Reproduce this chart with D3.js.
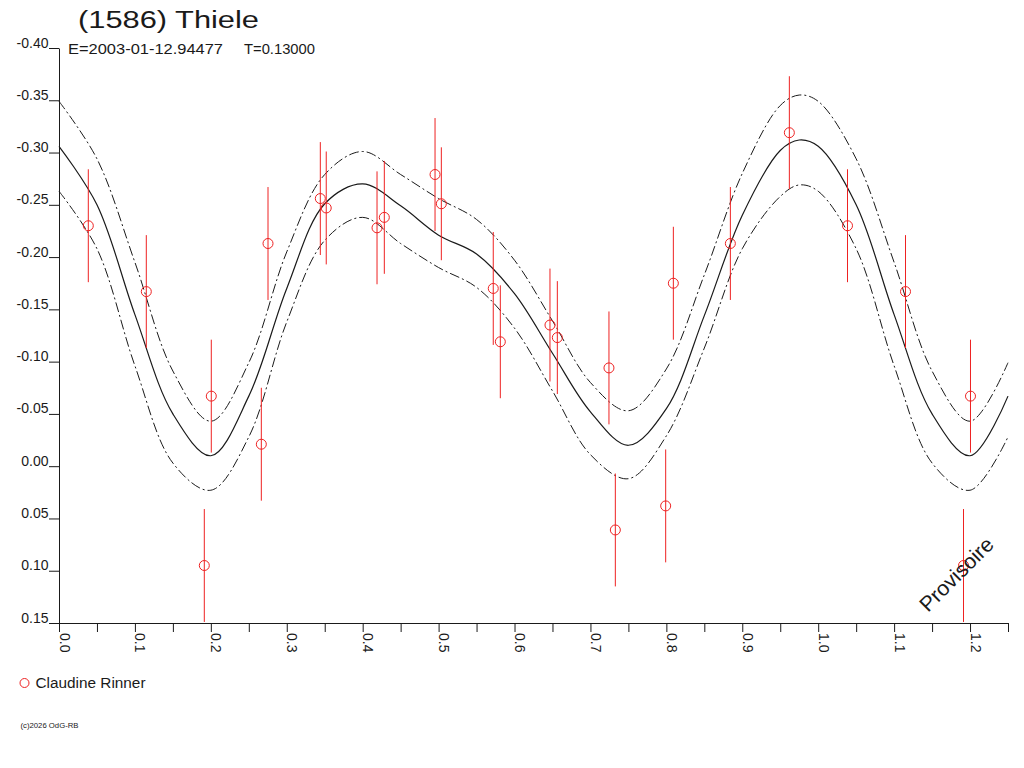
<!DOCTYPE html>
<html>
<head>
<meta charset="utf-8">
<script src="https://cdn.jsdelivr.net/npm/d3@7"></script>
<style>
  body { margin: 0; background: #fff; }
  svg { display: block; font-family: "Liberation Sans", Arial, sans-serif; }
</style>
</head>
<body>
<svg width="1024" height="768"></svg>
<script>
// observations (phase, reduced magnitude, error)
const obsPhase = [0.0386, 0.115, 0.2006, 0.1914, 0.2665, 0.2753, 0.3442, 0.352, 0.4189, 0.4285, 0.4953,
                  0.5036, 0.572, 0.5813, 0.6467, 0.6564, 0.7244, 0.7328, 0.7991, 0.8092, 0.8843, 0.962];
const obsMag = [-0.230, -0.167, -0.067, 0.095, -0.021, -0.213, -0.256, -0.247, -0.228, -0.238, -0.279,
                -0.251, -0.170, -0.119, -0.135, -0.123, -0.094, 0.061, 0.038, -0.175, -0.213, -0.319];
const obsErr = [0.054, 0.054, 0.054, 0.054, 0.054, 0.054, 0.054, 0.054, 0.054, 0.054, 0.054,
                0.054, 0.054, 0.054, 0.054, 0.054, 0.054, 0.054, 0.054, 0.054, 0.054, 0.054];

// fitted curve and its envelope, read at these phases
const curvePhase = [0, 0.05, 0.10, 0.15, 0.20, 0.25, 0.30, 0.35, 0.40, 0.45, 0.50, 0.55, 0.60, 0.65,
                    0.70, 0.75, 0.80, 0.85, 0.90, 0.95, 0.975];
const fitMag = [-0.306, -0.250, -0.145, -0.050, -0.010, -0.067, -0.170, -0.251, -0.270, -0.249, -0.221,
                -0.203, -0.165, -0.108, -0.052, -0.020, -0.055, -0.144, -0.240, -0.302, -0.312];
const upperMag = [-0.349, -0.294, -0.195, -0.091, -0.043, -0.099, -0.205, -0.279, -0.301, -0.279, -0.256,
                  -0.236, -0.197, -0.139, -0.080, -0.053, -0.093, -0.183, -0.280, -0.345, -0.355];
const lowerMag = [-0.263, -0.208, -0.096, -0.003, 0.023, -0.028, -0.138, -0.216, -0.238, -0.213, -0.190,
                  -0.171, -0.132, -0.072, -0.011, 0.012, -0.029, -0.113, -0.208, -0.258, -0.269];

const yTicks = [-0.40, -0.35, -0.30, -0.25, -0.20, -0.15, -0.10, -0.05, 0.00, 0.05, 0.10, 0.15];
const xTicks = [0, 0.05, 0.1, 0.15, 0.2, 0.25, 0.3, 0.35, 0.4, 0.45, 0.5, 0.55, 0.6, 0.65,
                0.7, 0.75, 0.8, 0.85, 0.9, 0.95, 1.0, 1.05, 1.1, 1.15, 1.2, 1.25];

const maxPhase = 1.25;
const ink = "#1a1a1a";
const red = "#ee2222";

const svg = d3.select("svg");

const x = d3.scaleLinear().domain([0, maxPhase]).range([59, 1008]);
const y = d3.scaleLinear().domain([-0.40, 0.15]).range([48, 623]);

// phase-folded copies shown past 1.0
function fold(rows) {
  const extra = rows.filter(d => d.phase + 1 <= maxPhase + 1e-9).map(d => Object.assign({}, d, {phase: d.phase + 1}));
  return rows.concat(extra);
}

const curveRows = fold(curvePhase.map((p, i) => ({phase: p, fit: fitMag[i], up: upperMag[i], lo: lowerMag[i]})));
const obsRows = fold(obsPhase.map((p, i) => ({phase: p, mag: obsMag[i], err: obsErr[i]})));

// axes
const yAxis = svg.append("g")
  .attr("transform", "translate(59,0)")
  .call(d3.axisLeft(y).tickValues(yTicks).tickSize(10).tickSizeOuter(0)
    .tickFormat(d => (Math.abs(d) < 1e-9 ? 0 : d).toFixed(2)));
yAxis.select(".domain").attr("stroke", ink);
yAxis.selectAll(".tick line").attr("stroke", ink);
yAxis.selectAll(".tick text")
  .attr("x", -10.5)
  .attr("dy", -1)
  .attr("fill", ink)
  .style("font-size", "14px")
  .style("font-family", "'Liberation Sans', Arial, sans-serif");

const xAxis = svg.append("g")
  .attr("transform", "translate(0,623)")
  .call(d3.axisBottom(x).tickValues(xTicks).tickSize(9).tickSizeOuter(0)
    .tickFormat(d => Math.round(d * 100) % 10 === 0 ? d3.format(".1f")(d) : ""));
xAxis.select(".domain").attr("stroke", ink);
xAxis.selectAll(".tick line").attr("stroke", ink);
xAxis.selectAll(".tick text")
  .attr("transform", "rotate(90)")
  .attr("x", 10)
  .attr("y", 0)
  .attr("dy", 0)
  .attr("text-anchor", "start")
  .attr("fill", ink)
  .style("font-size", "14px")
  .style("font-family", "'Liberation Sans', Arial, sans-serif");

// curves
const line = key => d3.line()
  .x(d => x(d.phase))
  .y(d => y(d[key]))
  .curve(d3.curveCatmullRom);

svg.append("path").datum(curveRows)
  .attr("fill", "none").attr("stroke", ink).attr("stroke-width", 1)
  .attr("stroke-dasharray", "10,3,2,3")
  .attr("d", line("up"));
svg.append("path").datum(curveRows)
  .attr("fill", "none").attr("stroke", ink).attr("stroke-width", 1)
  .attr("stroke-dasharray", "10,3,2,3")
  .attr("d", line("lo"));
svg.append("path").datum(curveRows)
  .attr("fill", "none").attr("stroke", ink).attr("stroke-width", 1.2)
  .attr("d", line("fit"));

// observations with error bars
svg.append("g").selectAll("line")
  .data(obsRows)
  .join("line")
    .attr("x1", d => x(d.phase)).attr("x2", d => x(d.phase))
    .attr("y1", d => y(d.mag - d.err)).attr("y2", d => y(d.mag + d.err))
    .attr("stroke", red).attr("stroke-width", 1);

svg.append("g").selectAll("circle")
  .data(obsRows)
  .join("circle")
    .attr("cx", d => x(d.phase))
    .attr("cy", d => y(d.mag))
    .attr("r", 5)
    .attr("fill", "none")
    .attr("stroke", red)
    .attr("stroke-width", 1);

// titles
svg.append("text")
  .attr("x", 78).attr("y", 28)
  .attr("textLength", 181).attr("lengthAdjust", "spacingAndGlyphs")
  .style("font-size", "23px").attr("fill", ink)
  .text("(1586) Thiele");
svg.append("text")
  .attr("x", 68).attr("y", 54)
  .attr("textLength", 155).attr("lengthAdjust", "spacingAndGlyphs")
  .style("font-size", "14px").attr("fill", ink)
  .text("E=2003-01-12.94477");
svg.append("text")
  .attr("x", 244).attr("y", 54)
  .attr("textLength", 71).attr("lengthAdjust", "spacingAndGlyphs")
  .style("font-size", "14px").attr("fill", ink)
  .text("T=0.13000");

// watermark
svg.append("text")
  .attr("transform", "translate(928,613) rotate(-45)")
  .attr("textLength", 95).attr("lengthAdjust", "spacingAndGlyphs")
  .style("font-size", "21px").attr("fill", ink)
  .text("Provisoire");

// legend
svg.append("circle")
  .attr("cx", 24.5).attr("cy", 683).attr("r", 4.5)
  .attr("fill", "none").attr("stroke", red).attr("stroke-width", 1);
svg.append("text")
  .attr("x", 35.5).attr("y", 688)
  .attr("textLength", 110).attr("lengthAdjust", "spacingAndGlyphs")
  .style("font-size", "14px").attr("fill", ink)
  .text("Claudine Rinner");

svg.append("text")
  .attr("x", 20.5).attr("y", 728)
  .attr("textLength", 58).attr("lengthAdjust", "spacingAndGlyphs")
  .style("font-size", "7px").attr("fill", ink)
  .text("(c)2026 OdG-RB");
</script>
</body>
</html>
